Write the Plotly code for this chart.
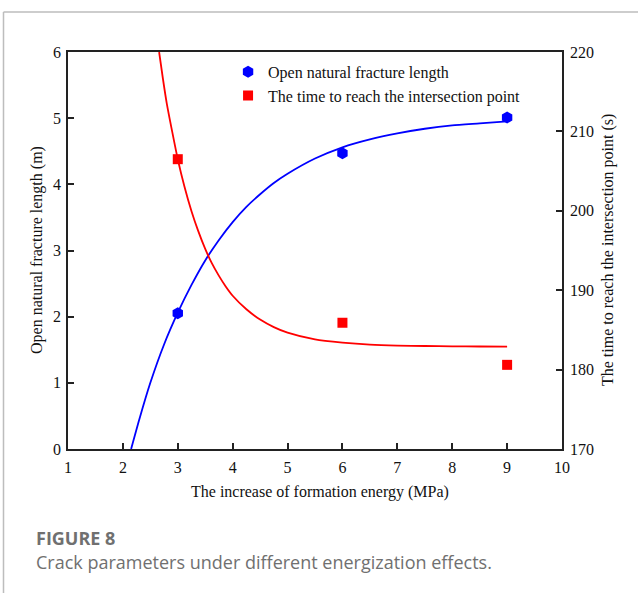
import plotly.graph_objects as go

# Measured points
energy = [3, 6, 9]
fracture_length = [2.05, 4.47, 5.01]
reach_time = [206.5, 185.9, 180.6]

# Fitted trend curves (sampled)
fit_len_x = [2.15, 2.3, 2.5, 2.75, 3.0, 3.25, 3.5, 3.75, 4.0, 4.25, 4.5, 4.75, 5.0, 5.5, 6.0, 6.5, 7.0, 7.5, 8.0, 8.5, 9.0]
fit_len_y = [0.0, 0.45, 1.0, 1.58, 2.06, 2.48, 2.85, 3.16, 3.43, 3.66, 3.85, 4.02, 4.16, 4.39, 4.56, 4.68, 4.77, 4.84, 4.89, 4.92, 4.95]
fit_time_x = [2.66, 2.73, 2.8, 2.9, 3.0, 3.12, 3.25, 3.37, 3.5, 3.62, 3.75, 3.87, 4.0, 4.25, 4.5, 4.75, 5.0, 5.5, 6.0, 6.5, 7.0, 7.5, 8.0, 8.5, 9.0]
fit_time_y = [220.0, 216.6, 213.5, 209.9, 206.5, 203.1, 199.95, 197.5, 195.2, 193.4, 191.8, 190.5, 189.3, 187.6, 186.3, 185.35, 184.65, 183.8, 183.4, 183.15, 183.03, 182.97, 182.93, 182.91, 182.9]

x_ticks = list(range(1, 11))
left_ticks = list(range(0, 7))
right_ticks = list(range(170, 230, 10))

SERIF = "Liberation Serif"
BLUE = "#0000ff"
RED = "#ff0000"

fig = go.Figure()

fig.add_trace(go.Scatter(
    x=fit_len_x, y=fit_len_y, mode="lines",
    line=dict(color=BLUE, width=1.8, shape="spline", smoothing=0.6),
    showlegend=False, hoverinfo="skip"))
fig.add_trace(go.Scatter(
    x=fit_time_x, y=fit_time_y, mode="lines", yaxis="y2",
    line=dict(color=RED, width=1.8, shape="spline", smoothing=0.6),
    showlegend=False, hoverinfo="skip"))

fig.add_trace(go.Scatter(
    x=energy, y=fracture_length, mode="markers", name="Open natural fracture length",
    marker=dict(symbol="hexagon", size=12, color=BLUE), legendgroup="a"))
fig.add_trace(go.Scatter(
    x=energy, y=reach_time, mode="markers", yaxis="y2",
    name="The time to reach the intersection point",
    marker=dict(symbol="square", size=10, color=RED), legendgroup="b"))


def axis_style(**extra):
    d = dict(
        showgrid=False, zeroline=False, showline=True, linecolor="#222", linewidth=1.5,
        ticks="inside", ticklen=6, tickwidth=1.5, tickcolor="#222",
        tickfont=dict(family=SERIF, size=16, color="#111"),
    )
    d.update(extra)
    return d


fig.update_layout(
    width=638, height=593, autosize=False,
    margin=dict(l=68, r=76, t=52, b=144),
    paper_bgcolor="white", plot_bgcolor="white",
    font=dict(family=SERIF, size=16, color="#111"),
    xaxis=axis_style(range=[1, 10], tickvals=x_ticks, mirror=True, ticklabelstandoff=3),
    yaxis=axis_style(range=[0, 6], tickvals=left_ticks, ticklabelstandoff=2),
    yaxis2=axis_style(range=[170, 220], tickvals=right_ticks, overlaying="y", side="right",
                      ticklabelstandoff=3),
    legend=dict(
        x=0.324, y=0.993, xanchor="left", yanchor="top",
        bgcolor="rgba(0,0,0,0)", traceorder="grouped", tracegroupgap=0,
        font=dict(family=SERIF, size=16, color="#111"), itemwidth=30,
    ),
    showlegend=True,
)

annotations = [
    dict(text="The increase of formation energy (MPa)", x=320, y=492),
    dict(text="Open natural fracture length (m)", x=37, y=250, textangle=-90),
    dict(text="The time to reach the intersection point (s)", x=608, y=250, textangle=-90),
]
for a in annotations:
    fig.add_annotation(
        text=a["text"], xref="paper", yref="paper",
        x=(a["x"] - 68) / (562 - 68), y=(449 - a["y"]) / (449 - 52),
        xanchor="center", yanchor="middle", showarrow=False,
        textangle=a.get("textangle", 0),
        font=dict(family=SERIF, size=16, color="#111"),
    )

# Caption below the chart
fig.add_annotation(
    text="<b>FIGURE 8</b>", xref="paper", yref="paper",
    x=(34 - 68) / 494, y=(449 - 538) / 397, xanchor="left", yanchor="middle",
    showarrow=False, font=dict(family="Open Sans", size=18, color="#707070"))
fig.add_annotation(
    text="Crack parameters under different energization effects.", xref="paper", yref="paper",
    x=(34 - 68) / 494, y=(449 - 562) / 397, xanchor="left", yanchor="middle",
    showarrow=False, font=dict(family="Open Sans", size=18, color="#707070"))

# Light frame on the top and left edges of the figure
fig.add_shape(type="line", xref="paper", yref="paper",
              x0=(3.5 - 68) / 494, x1=(640 - 68) / 494, y0=(449 - 12) / 397, y1=(449 - 12) / 397,
              line=dict(color="#bdbdbd", width=1.5))
fig.add_shape(type="line", xref="paper", yref="paper",
              x0=(3.5 - 68) / 494, x1=(3.5 - 68) / 494, y0=(449 - 12) / 397, y1=(449 - 600) / 397,
              line=dict(color="#bdbdbd", width=1.5))

fig.write_html("out.html")
